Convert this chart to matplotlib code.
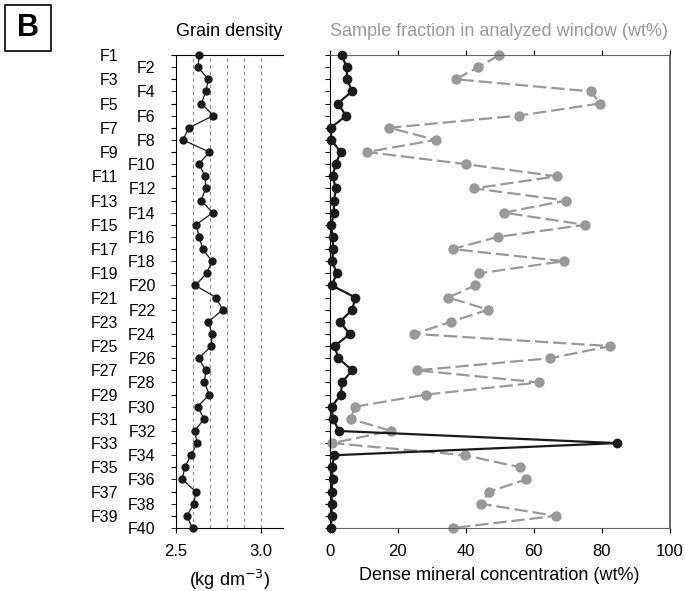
import numpy as np
import matplotlib
matplotlib.use('Agg')
import matplotlib.pyplot as plt
from matplotlib.patches import Rectangle

plt.rcParams['font.family'] = ['Liberation Sans', 'DejaVu Sans']

# samples F1..F40
labels = ['F%d' % i for i in range(1, 41)]

# grain density (kg dm-3)
density = [2.637, 2.629, 2.690, 2.676, 2.649, 2.720, 2.575, 2.541, 2.696, 2.635,
           2.672, 2.675, 2.647, 2.716, 2.618, 2.637, 2.657, 2.712, 2.680, 2.614,
           2.735, 2.775, 2.690, 2.712, 2.708, 2.633, 2.675, 2.667, 2.696, 2.627,
           2.665, 2.610, 2.625, 2.588, 2.551, 2.537, 2.616, 2.606, 2.563, 2.598]

# dense mineral concentration (wt%)
dense = [3.6, 5.0, 5.2, 6.6, 2.4, 4.9, 0.4, 0.5, 3.3, 1.8,
         0.9, 1.9, 1.3, 1.3, 0.5, 0.9, 1.1, 0.8, 2.1, 0.7,
         7.6, 6.7, 3.0, 6.0, 1.5, 2.6, 6.7, 3.6, 3.4, 0.6,
         1.0, 2.8, 84.5, 1.4, 0.7, 0.9, 0.6, 0.7, 0.6, 0.4]

# sample fraction in analyzed window (wt%)
fraction = [49.9, 43.8, 37.1, 76.8, 79.6, 55.6, 17.6, 31.2, 11.0, 40.1,
            66.8, 42.6, 69.5, 51.3, 75.2, 49.5, 36.2, 68.9, 44.0, 42.9,
            34.9, 46.7, 35.7, 24.9, 82.6, 64.9, 25.8, 61.6, 28.4, 7.5,
            6.2, 18.1, 0.8, 39.9, 56.1, 57.8, 47.0, 44.6, 66.5, 36.3]

depth = np.arange(1, len(labels) + 1)

fig = plt.figure(figsize=(6.85, 5.91), dpi=100)
W, H = 685.0, 591.0
top_px, bot_px = 55.0, 528.0

# ---- left panel: grain density
ax1 = fig.add_axes([176 / W, (H - bot_px) / H, 107 / W, (bot_px - top_px) / H])
for v in [2.6, 2.7, 2.8, 2.9, 3.0]:
    ax1.axvline(v, color='#888888', lw=0.8, ls=(0, (3, 3)), zorder=1)
ax1.plot(density, depth, '-o', color='#1a1a1a', lw=0.9, ms=5, clip_on=False, zorder=3)
ax1.set_xlim(2.5, 2.5 + 107 / 170.0)
ax1.set_ylim(40, 1)
ax1.spines['right'].set_visible(False)
ax1.set_xticks([2.5, 3.0])
ax1.set_xticklabels(['2.5', '3.0'], fontsize=12)
ax1.set_yticks(depth[0::2])
ax1.set_yticklabels(labels[0::2], fontsize=11.5)
ax1.set_yticks(depth[1::2], minor=True)
ax1.set_yticklabels(labels[1::2], minor=True, fontsize=11.5)
ax1.tick_params(axis='y', which='major', direction='out', length=3.6, pad=38)
ax1.tick_params(axis='y', which='minor', direction='out', length=3.6, pad=11)
ax1.tick_params(axis='x', direction='out', length=3.6, pad=8)
ax1.set_title('Grain density', fontsize=13, pad=14)
ax1.set_xlabel('(kg dm$^{-3}$)', fontsize=13, labelpad=6)

# ---- right panel: dense mineral concentration
ax2 = fig.add_axes([329.5 / W, (H - bot_px) / H, 340 / W, (bot_px - top_px) / H])
ax2.plot(fraction, depth, '-o', color='#999999', lw=1.6, ms=6.5, dashes=(6, 2.2),
         clip_on=False, zorder=2)
ax2.plot(dense, depth, '-o', color='#1a1a1a', lw=1.6, ms=6, clip_on=False, zorder=3)
ax2.set_xlim(0, 100)
ax2.set_ylim(40, 1)
ax2.set_xticks([0, 20, 40, 60, 80, 100])
ax2.set_xticklabels(['0', '20', '40', '60', '80', '100'], fontsize=12)
ax2.set_yticks(depth)
ax2.set_yticklabels([])
ax2.tick_params(axis='y', direction='out', length=3.6)
ax2.tick_params(axis='x', direction='out', length=3.6, pad=8, top=True)
for s in ['top', 'bottom', 'right']:
    ax2.spines[s].set_color('#666666')
ax2.spines['right'].set_linewidth(1.4)
ax2.set_title('Sample fraction in analyzed window (wt%)', fontsize=13, pad=14,
              color='#999999')
ax2.set_xlabel('Dense mineral concentration (wt%)', fontsize=13, labelpad=6)

# ---- panel letter
fig.patches.append(Rectangle((5 / W, 1 - 51 / H), 46 / W, 46 / H, transform=fig.transFigure,
                             fill=False, edgecolor='black', lw=1.2))
fig.text(28 / W, 1 - 28 / H, 'B', fontsize=22, fontweight='bold', ha='center', va='center')

fig.savefig('out.png', dpi=100)
